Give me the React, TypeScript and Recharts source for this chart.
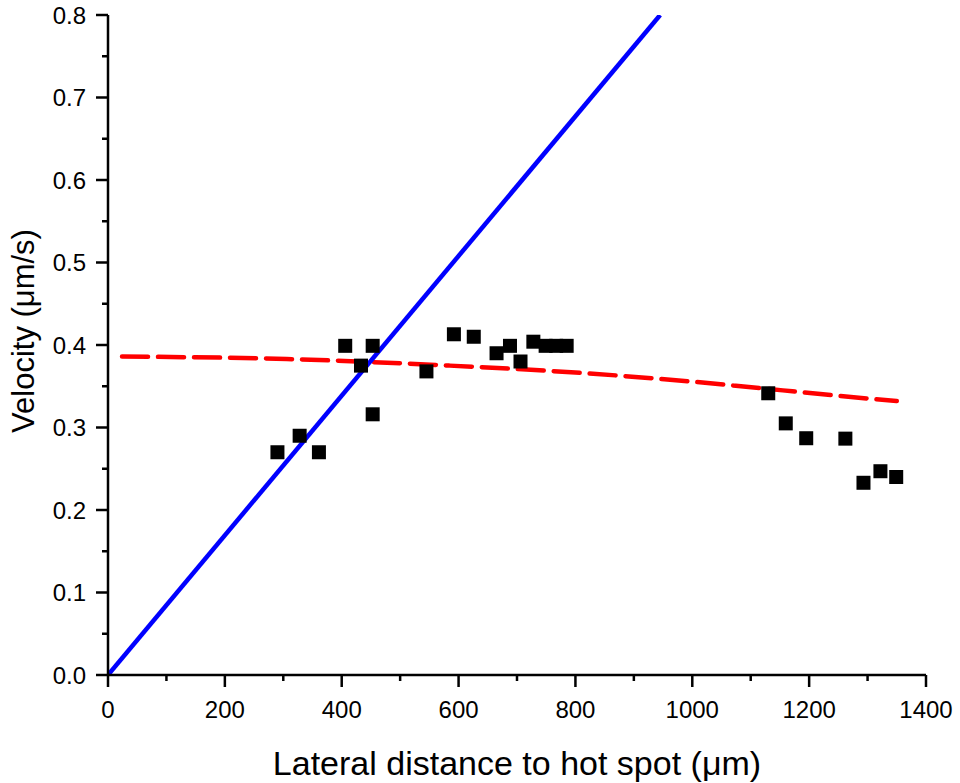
import {
  ComposedChart,
  Scatter,
  Line,
  XAxis,
  YAxis,
  Label,
} from "recharts";

// measured points
const distX = [290, 328, 361, 406, 433, 453, 453, 545, 592, 626, 665, 688, 706, 728, 749, 767, 785, 1130, 1160, 1195, 1262, 1293, 1322, 1349];
const velY = [0.27, 0.29, 0.27, 0.399, 0.375, 0.399, 0.316, 0.368, 0.413, 0.41, 0.39, 0.399, 0.38, 0.404, 0.399, 0.399, 0.399, 0.3415, 0.305, 0.287, 0.2865, 0.233, 0.247, 0.24];

// linear fit through origin (blue)
const linX = [0, 945];
const linY = [0, 0.8];

// curved fit (red dashed)
const fitX = [24, 306, 585, 813, 1070, 1155, 1241, 1350];
const fitY = [0.386, 0.383, 0.375, 0.366, 0.351, 0.345, 0.339, 0.332];

const xTicks = [0, 100, 200, 300, 400, 500, 600, 700, 800, 900, 1000, 1100, 1200, 1300, 1400];
const yTicks = [0, 0.05, 0.1, 0.15, 0.2, 0.25, 0.3, 0.35, 0.4, 0.45, 0.5, 0.55, 0.6, 0.65, 0.7, 0.75, 0.8];

const points = distX.map((x, i) => ({ x, y: velY[i] }));
const linData = linX.map((x, i) => ({ x, y: linY[i] }));
const fitData = fitX.map((x, i) => ({ x, y: fitY[i] }));

const FONT = "'Liberation Sans', Arial, sans-serif";

const XTick = (props: any) => {
  const { x, y, payload } = props;
  const major = payload.value % 200 === 0;
  return (
    <g>
      <line x1={x} x2={x} y1={y} y2={y + (major ? 12 : 6)} stroke="#000" strokeWidth={2.5} />
      {major && (
        <text x={x} y={y + 34} textAnchor="middle" dominantBaseline="central" fontSize={24} fontFamily={FONT} fill="#000">
          {payload.value}
        </text>
      )}
    </g>
  );
};

const YTick = (props: any) => {
  const { x, y, payload } = props;
  const major = Math.round(payload.value * 100) % 10 === 0;
  return (
    <g>
      <line x1={x} x2={x - (major ? 12 : 6)} y1={y} y2={y} stroke="#000" strokeWidth={2.5} />
      {major && (
        <text x={x - 22} y={y} textAnchor="end" dominantBaseline="central" fontSize={24} fontFamily={FONT} fill="#000">
          {payload.value.toFixed(1)}
        </text>
      )}
    </g>
  );
};

const Square = (props: any) => {
  const { cx, cy } = props;
  return <rect x={cx - 7} y={cy - 7} width={14} height={14} fill="#000" />;
};

export default function App() {
  return (
    <div style={{ position: "absolute", left: 0, top: 0, background: "#fff" }}>
      <ComposedChart
        width={960}
        height={783}
        margin={{ top: 15, right: 34, bottom: 0, left: 0 }}
      >
        <XAxis
          type="number"
          dataKey="x"
          domain={[0, 1400]}
          ticks={xTicks}
          interval={0}
          height={108}
          tickSize={0}
          tickMargin={0}
          tickLine={false}
          tick={<XTick />}
          axisLine={{ stroke: "#000", strokeWidth: 2.5 }}
          allowDataOverflow
        >
          <Label
            content={(p: any) => {
              const vb = p.viewBox;
              return (
                <text
                  x={vb.x + vb.width / 2}
                  y={vb.y + 100}
                  textAnchor="middle"
                  fontSize={34}
                  fontFamily={FONT}
                  fill="#000"
                >
                  Lateral distance to hot spot (μm)
                </text>
              );
            }}
          />
        </XAxis>
        <YAxis
          type="number"
          dataKey="y"
          domain={[0, 0.8]}
          ticks={yTicks}
          interval={0}
          width={108}
          tickSize={0}
          tickMargin={0}
          tickLine={false}
          tick={<YTick />}
          axisLine={{ stroke: "#000", strokeWidth: 2.5 }}
          allowDataOverflow
        >
          <Label
            content={(p: any) => {
              const vb = p.viewBox;
              const cx = vb.x + 23;
              const cy = vb.y + vb.height / 2 - 14;
              return (
                <text
                  x={cx}
                  y={cy}
                  transform={`rotate(-90 ${cx} ${cy})`}
                  textAnchor="middle"
                  dominantBaseline="central"
                  fontSize={31}
                  fontFamily={FONT}
                  fill="#000"
                >
                  Velocity (μm/s)
                </text>
              );
            }}
          />
        </YAxis>
        <Scatter data={points} dataKey="y" shape={<Square />} isAnimationActive={false} />
        <Line
          data={fitData}
          dataKey="y"
          type="monotone"
          stroke="#ff0000"
          strokeWidth={4.5}
          strokeDasharray="26 10"
          strokeLinecap="round"
          dot={false}
          activeDot={false}
          isAnimationActive={false}
        />
        <Line
          data={linData}
          dataKey="y"
          type="linear"
          stroke="#0000ff"
          strokeWidth={4.5}
          dot={false}
          activeDot={false}
          isAnimationActive={false}
        />
      </ComposedChart>
    </div>
  );
}
